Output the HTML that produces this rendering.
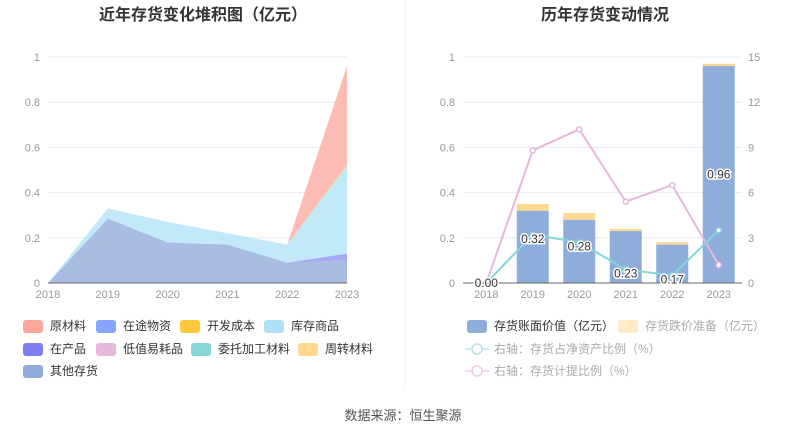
<!DOCTYPE html>
<html><head><meta charset="utf-8"><style>
body{margin:0;background:#fff;}
svg{display:block;font-family:"Liberation Sans","Noto Sans CJK SC",sans-serif;}
</style></head><body>
<svg id="c" width="807" height="436" xmlns="http://www.w3.org/2000/svg">
<text x="203" y="20" text-anchor="middle" font-size="16" font-weight="bold" fill="#333">近年存货变化堆积图（亿元）</text>
<text x="605" y="20" text-anchor="middle" font-size="16" font-weight="bold" fill="#333">历年存货变动情况</text>
<line x1="405" y1="0" x2="405" y2="388" stroke="#f0f0f0"/>
<g id="left"></g><g id="right"></g><g id="legends"></g>
<text x="403" y="420" text-anchor="middle" font-size="13" fill="#555">数据来源：恒生聚源</text>
</svg>
<script>
const years=['2018','2019','2020','2021','2022','2023'];
const other=[0,0.285,0.18,0.17,0.09,0.10];
const wip=[0,0,0,0,0,0.03];
const goods=[0,0.045,0.09,0.05,0.08,0.39];
const devCost=[0,0,0,0,0,0.005];
const raw=[0,0,0,0,0,0.435];
const leftTicks=[0,0.2,0.4,0.6,0.8,1];
const bookValue=[0,0.32,0.28,0.23,0.17,0.96];
const reserve=[0,0.03,0.03,0.01,0.01,0.01];
const netRatio=[0,3.2,2.7,0.9,0.5,3.5];
const provRatio=[0,8.8,10.2,5.4,6.5,1.2];
const rightTicks=[0,3,6,9,12,15];
const NS='http://www.w3.org/2000/svg';
function mk(p,t,a){const e=document.createElementNS(NS,t);for(const k in a)e.setAttribute(k,a[k]);p.appendChild(e);return e;}
const y0=283,y1=57;
const yL=v=>y0-(y0-y1)*v;
const yR=v=>y0-(y0-y1)*v/15;
// LEFT
const L=document.getElementById('left');
const xL=i=>48+i*(347-48)/5;
leftTicks.forEach(t=>{
 const g=mk(L,'line',{x1:48,x2:347,y1:yL(t),y2:yL(t),stroke:'#e8ebf2'});
 
 
 const tx=mk(L,'text',{x:40,y:yL(t)+4,'text-anchor':'end','font-size':11,fill:'#999'});tx.textContent=t;
 
 
});
const series=[[other,'#a9bde2'],[wip,'#8a8cf2'],[goods,'#aee1f8'],[devCost,'#ffc73a'],[raw,'#fba59b']];
let base=years.map(()=>0);
series.forEach(([d,c],si)=>{
 const top=base.map((b,i)=>b+d[i]);
 let p='M'+years.map((_,i)=>xL(i)+','+yL(top[i])).join('L');
 for(let i=years.length-1;i>=0;i--)p+='L'+xL(i)+','+yL(base[i]);
 const a=mk(L,'path',{d:p+'Z',fill:c,'fill-opacity':si==0?1:0.75});
 
 
 base=top;
});
mk(L,'line',{x1:48,x2:347,y1:y0,y2:y0,stroke:'#666'});
years.forEach((y,i)=>{const t=mk(L,'text',{x:xL(i),y:298,'text-anchor':'middle','font-size':11,fill:'#999'});t.textContent=y;
 
 });
// RIGHT
const R=document.getElementById('right');
const x0=463,x1=742,bw=(x1-x0)/6;const xc=i=>x0+bw*(i+0.5);
leftTicks.forEach((t,k)=>{
 const g=mk(R,'line',{x1:x0,x2:x1,y1:yL(t),y2:yL(t),stroke:'#e8ebf2'});
 
 
 const tx=mk(R,'text',{x:455,y:yL(t)+4,'text-anchor':'end','font-size':11,fill:'#999'});tx.textContent=t;
 
 
 const tr=mk(R,'text',{x:748,y:yR(rightTicks[k])+4,'font-size':11,fill:'#999'});tr.textContent=rightTicks[k];
 
 
});
years.forEach((y,i)=>{
 const w=32;
 const b=mk(R,'rect',{x:xc(i)-w/2,y:yL(bookValue[i]),width:w,height:yL(0)-yL(bookValue[i]),fill:'#8eaddb'});
 
 
 const r=mk(R,'rect',{x:xc(i)-w/2,y:yL(bookValue[i]+reserve[i]),width:w,height:yL(bookValue[i])-yL(bookValue[i]+reserve[i]),fill:'#ffd990'});
 
 
});
function line(d,c,nm){
 const p=mk(R,'polyline',{points:d.map((v,i)=>xc(i)+','+yR(v)).join(' '),fill:'none',stroke:c,'stroke-width':2});
 
 
 d.forEach((v,i)=>{const c2=mk(R,'circle',{cx:xc(i),cy:yR(v),r:2.5,fill:'#fff',stroke:c,'stroke-width':1.5});
  
  });
}
line(provRatio,'#e7b8dc','line-provision-ratio');
line(netRatio,'#84d6d9','line-net-asset-ratio');
mk(R,'line',{x1:x0,x2:x1,y1:y0,y2:y0,stroke:'#666'});
years.forEach((y,i)=>{
 const t=mk(R,'text',{x:xc(i),y:298,'text-anchor':'middle','font-size':11,fill:'#999'});t.textContent=y;
 
 
 const ly=i==0?yL(0)+4:(i==5?yL(bookValue[i]/2)+4:yR(netRatio[i])+8);
 const lb=mk(R,'text',{x:xc(i),y:ly,'text-anchor':'middle','font-size':12,fill:'#333',stroke:'#fff','stroke-width':3,'paint-order':'stroke'});
 lb.textContent=bookValue[i].toFixed(2);
 
 
});
// LEGENDS
const G=document.getElementById('legends');
function sw(x,y,c,label,tc,nm){
 const r=mk(G,'rect',{x:x,y:y-6,width:20,height:13,rx:3,fill:c});
 
 
 const t=mk(G,'text',{x:x+27,y:y+4,'font-size':12,fill:tc||'#333'});t.textContent=label;
 
 
}
sw(23,326,'#fba59b','原材料','#333','legend-raw-material');
sw(96,326,'#85a5fb','在途物资','#333','legend-in-transit');
sw(180,326,'#ffc73a','开发成本','#333','legend-dev-cost');
sw(264,326,'#aee1f8','库存商品','#333','legend-goods');
sw(23,349,'#7b7ff0','在产品','#333','legend-wip');
sw(96,349,'#e7b8dc','低值易耗品','#333','legend-low-value');
sw(191,349,'#84d6d9','委托加工材料','#333','legend-consigned');
sw(298,349,'#ffd990','周转材料','#333','legend-turnover');
sw(23,371,'#8eaddb','其他存货','#333','legend-other');
sw(467,326,'#8eaddb','存货账面价值（亿元）','#333','legend-book-value');
sw(618,326,'#ffebc8','存货跌价准备（亿元）','#aaa','legend-reserve');
function ll(y,c,label,nm){
 const l=mk(G,'line',{x1:465,x2:489,y1:y,y2:y,stroke:c,'stroke-width':1.5});
 
 
 mk(G,'circle',{cx:477,cy:y,r:5,fill:'#fff',stroke:c,'stroke-width':1.5});
 const t=mk(G,'text',{x:494,y:y+4,'font-size':12,fill:'#aaa'});t.textContent=label;
 
 
}
ll(349,'#b5e6e8','右轴：存货占净资产比例（%）','legend-net-asset-ratio');
ll(371,'#f0cde8','右轴：存货计提比例（%）','legend-provision-ratio');
</script>
</body></html>
